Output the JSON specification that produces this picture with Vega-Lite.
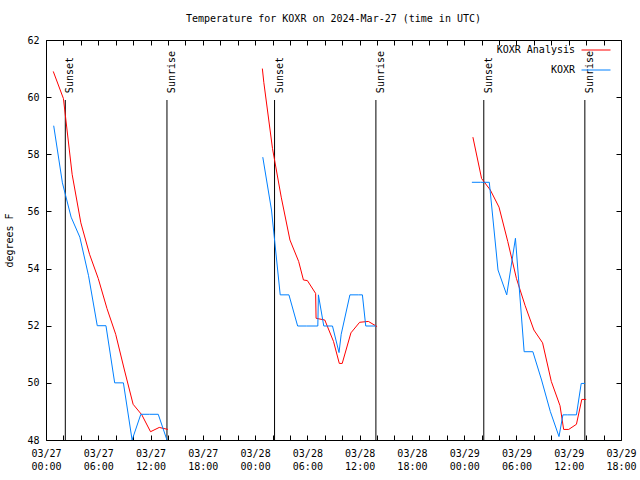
{
  "$schema": "https://vega.github.io/schema/vega-lite/v6.json",
  "width": 575,
  "height": 400,
  "autosize": "none",
  "padding": {"left": 46, "top": 40, "right": 19, "bottom": 40},
  "background": "white",
  "config": {
    "view": {"stroke": "black", "strokeWidth": 1},
    "font": "DejaVu Sans Mono",
    "axis": {
      "grid": false,
      "domainColor": "black",
      "tickColor": "black",
      "labelColor": "black",
      "titleColor": "black",
      "labelFont": "DejaVu Sans Mono",
      "labelFontSize": 10,
      "titleFont": "DejaVu Sans Mono",
      "titleFontSize": 10,
      "titleFontWeight": "normal"
    },
    "legend": {
      "labelFont": "DejaVu Sans Mono",
      "labelFontSize": 10,
      "labelColor": "black"
    }
  },
  "title": {
    "text": "Temperature for KOXR on 2024-Mar-27 (time in UTC)",
    "font": "DejaVu Sans Mono",
    "fontSize": 10,
    "fontWeight": "normal",
    "color": "black",
    "offset": 11
  },
  "datasets": {
    "sun": [
      {"label": "Sunset", "time": "2024-03-27T02:13:00Z"},
      {"label": "Sunrise", "time": "2024-03-27T13:53:00Z"},
      {"label": "Sunset", "time": "2024-03-28T02:14:00Z"},
      {"label": "Sunrise", "time": "2024-03-28T13:52:00Z"},
      {"label": "Sunset", "time": "2024-03-29T02:15:00Z"},
      {"label": "Sunrise", "time": "2024-03-29T13:51:00Z"}
    ],
    "temps": [
      {"series": "KOXR Analysis", "day": 1, "time": "2024-03-27T00:50:00Z", "temp": 60.9},
      {"series": "KOXR Analysis", "day": 1, "time": "2024-03-27T02:00:00Z", "temp": 59.95},
      {"series": "KOXR Analysis", "day": 1, "time": "2024-03-27T03:00:00Z", "temp": 57.3},
      {"series": "KOXR Analysis", "day": 1, "time": "2024-03-27T04:00:00Z", "temp": 55.6},
      {"series": "KOXR Analysis", "day": 1, "time": "2024-03-27T05:00:00Z", "temp": 54.5},
      {"series": "KOXR Analysis", "day": 1, "time": "2024-03-27T06:00:00Z", "temp": 53.65},
      {"series": "KOXR Analysis", "day": 1, "time": "2024-03-27T07:00:00Z", "temp": 52.6},
      {"series": "KOXR Analysis", "day": 1, "time": "2024-03-27T08:00:00Z", "temp": 51.7},
      {"series": "KOXR Analysis", "day": 1, "time": "2024-03-27T09:00:00Z", "temp": 50.45},
      {"series": "KOXR Analysis", "day": 1, "time": "2024-03-27T10:00:00Z", "temp": 49.25},
      {"series": "KOXR Analysis", "day": 1, "time": "2024-03-27T11:00:00Z", "temp": 48.88},
      {"series": "KOXR Analysis", "day": 1, "time": "2024-03-27T12:00:00Z", "temp": 48.29},
      {"series": "KOXR Analysis", "day": 1, "time": "2024-03-27T13:00:00Z", "temp": 48.44},
      {"series": "KOXR Analysis", "day": 1, "time": "2024-03-27T14:00:00Z", "temp": 48.37},
      {"series": "KOXR Analysis", "day": 2, "time": "2024-03-28T00:50:00Z", "temp": 61.0},
      {"series": "KOXR Analysis", "day": 2, "time": "2024-03-28T01:00:00Z", "temp": 60.52},
      {"series": "KOXR Analysis", "day": 2, "time": "2024-03-28T02:00:00Z", "temp": 58.2},
      {"series": "KOXR Analysis", "day": 2, "time": "2024-03-28T03:00:00Z", "temp": 56.5},
      {"series": "KOXR Analysis", "day": 2, "time": "2024-03-28T04:00:00Z", "temp": 55.0},
      {"series": "KOXR Analysis", "day": 2, "time": "2024-03-28T05:00:00Z", "temp": 54.25},
      {"series": "KOXR Analysis", "day": 2, "time": "2024-03-28T05:33:00Z", "temp": 53.6},
      {"series": "KOXR Analysis", "day": 2, "time": "2024-03-28T06:00:00Z", "temp": 53.58},
      {"series": "KOXR Analysis", "day": 2, "time": "2024-03-28T06:57:00Z", "temp": 53.13},
      {"series": "KOXR Analysis", "day": 2, "time": "2024-03-28T07:00:00Z", "temp": 52.26},
      {"series": "KOXR Analysis", "day": 2, "time": "2024-03-28T08:00:00Z", "temp": 52.2},
      {"series": "KOXR Analysis", "day": 2, "time": "2024-03-28T09:00:00Z", "temp": 51.45},
      {"series": "KOXR Analysis", "day": 2, "time": "2024-03-28T09:40:00Z", "temp": 50.68},
      {"series": "KOXR Analysis", "day": 2, "time": "2024-03-28T10:00:00Z", "temp": 50.68},
      {"series": "KOXR Analysis", "day": 2, "time": "2024-03-28T11:00:00Z", "temp": 51.75},
      {"series": "KOXR Analysis", "day": 2, "time": "2024-03-28T12:00:00Z", "temp": 52.12},
      {"series": "KOXR Analysis", "day": 2, "time": "2024-03-28T13:00:00Z", "temp": 52.15},
      {"series": "KOXR Analysis", "day": 2, "time": "2024-03-28T14:00:00Z", "temp": 51.97},
      {"series": "KOXR Analysis", "day": 3, "time": "2024-03-29T01:00:00Z", "temp": 58.6},
      {"series": "KOXR Analysis", "day": 3, "time": "2024-03-29T02:00:00Z", "temp": 57.15},
      {"series": "KOXR Analysis", "day": 3, "time": "2024-03-29T03:00:00Z", "temp": 56.75},
      {"series": "KOXR Analysis", "day": 3, "time": "2024-03-29T04:00:00Z", "temp": 56.15},
      {"series": "KOXR Analysis", "day": 3, "time": "2024-03-29T05:00:00Z", "temp": 54.95},
      {"series": "KOXR Analysis", "day": 3, "time": "2024-03-29T06:00:00Z", "temp": 53.65},
      {"series": "KOXR Analysis", "day": 3, "time": "2024-03-29T07:00:00Z", "temp": 52.7},
      {"series": "KOXR Analysis", "day": 3, "time": "2024-03-29T08:00:00Z", "temp": 51.85},
      {"series": "KOXR Analysis", "day": 3, "time": "2024-03-29T09:00:00Z", "temp": 51.4},
      {"series": "KOXR Analysis", "day": 3, "time": "2024-03-29T10:00:00Z", "temp": 50.05},
      {"series": "KOXR Analysis", "day": 3, "time": "2024-03-29T11:00:00Z", "temp": 49.2},
      {"series": "KOXR Analysis", "day": 3, "time": "2024-03-29T11:25:00Z", "temp": 48.37},
      {"series": "KOXR Analysis", "day": 3, "time": "2024-03-29T12:00:00Z", "temp": 48.37},
      {"series": "KOXR Analysis", "day": 3, "time": "2024-03-29T12:53:00Z", "temp": 48.55},
      {"series": "KOXR Analysis", "day": 3, "time": "2024-03-29T13:30:00Z", "temp": 49.42},
      {"series": "KOXR Analysis", "day": 3, "time": "2024-03-29T14:00:00Z", "temp": 49.42},
      {"series": "KOXR", "day": 1, "time": "2024-03-27T00:53:00Z", "temp": 59.0},
      {"series": "KOXR", "day": 1, "time": "2024-03-27T01:53:00Z", "temp": 57.0},
      {"series": "KOXR", "day": 1, "time": "2024-03-27T02:53:00Z", "temp": 55.8},
      {"series": "KOXR", "day": 1, "time": "2024-03-27T03:53:00Z", "temp": 55.1},
      {"series": "KOXR", "day": 1, "time": "2024-03-27T04:53:00Z", "temp": 53.75},
      {"series": "KOXR", "day": 1, "time": "2024-03-27T05:53:00Z", "temp": 52.0},
      {"series": "KOXR", "day": 1, "time": "2024-03-27T06:53:00Z", "temp": 52.0},
      {"series": "KOXR", "day": 1, "time": "2024-03-27T07:53:00Z", "temp": 50.0},
      {"series": "KOXR", "day": 1, "time": "2024-03-27T08:53:00Z", "temp": 50.0},
      {"series": "KOXR", "day": 1, "time": "2024-03-27T09:53:00Z", "temp": 48.0},
      {"series": "KOXR", "day": 1, "time": "2024-03-27T10:53:00Z", "temp": 48.9},
      {"series": "KOXR", "day": 1, "time": "2024-03-27T11:53:00Z", "temp": 48.9},
      {"series": "KOXR", "day": 1, "time": "2024-03-27T12:53:00Z", "temp": 48.9},
      {"series": "KOXR", "day": 1, "time": "2024-03-27T13:53:00Z", "temp": 48.0},
      {"series": "KOXR", "day": 2, "time": "2024-03-28T00:53:00Z", "temp": 57.9},
      {"series": "KOXR", "day": 2, "time": "2024-03-28T01:53:00Z", "temp": 56.05},
      {"series": "KOXR", "day": 2, "time": "2024-03-28T02:53:00Z", "temp": 53.08},
      {"series": "KOXR", "day": 2, "time": "2024-03-28T03:53:00Z", "temp": 53.08},
      {"series": "KOXR", "day": 2, "time": "2024-03-28T04:53:00Z", "temp": 51.99},
      {"series": "KOXR", "day": 2, "time": "2024-03-28T05:53:00Z", "temp": 51.99},
      {"series": "KOXR", "day": 2, "time": "2024-03-28T06:53:00Z", "temp": 51.99},
      {"series": "KOXR", "day": 2, "time": "2024-03-28T07:12:00Z", "temp": 51.99},
      {"series": "KOXR", "day": 2, "time": "2024-03-28T07:16:00Z", "temp": 53.08},
      {"series": "KOXR", "day": 2, "time": "2024-03-28T07:53:00Z", "temp": 51.99},
      {"series": "KOXR", "day": 2, "time": "2024-03-28T08:53:00Z", "temp": 51.99},
      {"series": "KOXR", "day": 2, "time": "2024-03-28T09:38:00Z", "temp": 51.06},
      {"series": "KOXR", "day": 2, "time": "2024-03-28T09:53:00Z", "temp": 51.7},
      {"series": "KOXR", "day": 2, "time": "2024-03-28T10:53:00Z", "temp": 53.08},
      {"series": "KOXR", "day": 2, "time": "2024-03-28T11:53:00Z", "temp": 53.08},
      {"series": "KOXR", "day": 2, "time": "2024-03-28T12:19:00Z", "temp": 53.08},
      {"series": "KOXR", "day": 2, "time": "2024-03-28T12:42:00Z", "temp": 51.99},
      {"series": "KOXR", "day": 2, "time": "2024-03-28T13:53:00Z", "temp": 51.99},
      {"series": "KOXR", "day": 3, "time": "2024-03-29T00:53:00Z", "temp": 57.02},
      {"series": "KOXR", "day": 3, "time": "2024-03-29T01:53:00Z", "temp": 57.02},
      {"series": "KOXR", "day": 3, "time": "2024-03-29T02:53:00Z", "temp": 57.02},
      {"series": "KOXR", "day": 3, "time": "2024-03-29T03:53:00Z", "temp": 53.95},
      {"series": "KOXR", "day": 3, "time": "2024-03-29T04:53:00Z", "temp": 53.08},
      {"series": "KOXR", "day": 3, "time": "2024-03-29T05:53:00Z", "temp": 55.06},
      {"series": "KOXR", "day": 3, "time": "2024-03-29T06:53:00Z", "temp": 51.09},
      {"series": "KOXR", "day": 3, "time": "2024-03-29T07:53:00Z", "temp": 51.09},
      {"series": "KOXR", "day": 3, "time": "2024-03-29T08:53:00Z", "temp": 50.1},
      {"series": "KOXR", "day": 3, "time": "2024-03-29T09:53:00Z", "temp": 49.0},
      {"series": "KOXR", "day": 3, "time": "2024-03-29T10:53:00Z", "temp": 48.12},
      {"series": "KOXR", "day": 3, "time": "2024-03-29T11:20:00Z", "temp": 48.88},
      {"series": "KOXR", "day": 3, "time": "2024-03-29T11:53:00Z", "temp": 48.88},
      {"series": "KOXR", "day": 3, "time": "2024-03-29T12:53:00Z", "temp": 48.88},
      {"series": "KOXR", "day": 3, "time": "2024-03-29T13:26:00Z", "temp": 49.98},
      {"series": "KOXR", "day": 3, "time": "2024-03-29T13:53:00Z", "temp": 49.98}
    ]
  },
  "layer": [
    {
      "data": {"name": "sun"},
      "mark": {"type": "rule", "color": "black", "strokeWidth": 1},
      "encoding": {
        "x": {
          "field": "time",
          "type": "temporal",
          "axis": {
            "orient": "top",
            "title": null,
            "labels": false,
            "domain": false,
            "tickSize": -5,
            "values": [1711497600000, 1711504800000, 1711512000000, 1711519200000, 1711526400000, 1711533600000, 1711540800000, 1711548000000, 1711555200000, 1711562400000, 1711569600000, 1711576800000, 1711584000000, 1711591200000, 1711598400000, 1711605600000, 1711612800000, 1711620000000, 1711627200000, 1711634400000, 1711641600000, 1711648800000, 1711656000000, 1711663200000, 1711670400000, 1711677600000, 1711684800000, 1711692000000, 1711699200000, 1711706400000, 1711713600000, 1711720800000, 1711728000000, 1711735200000]
          }
        },
        "y": {
          "datum": 48,
          "type": "quantitative",
          "scale": {"domain": [48, 62], "zero": false},
          "axis": {
            "orient": "right",
            "title": null,
            "labels": false,
            "domain": false,
            "tickSize": -5,
            "values": [48, 50, 52, 54, 56, 58, 60, 62]
          }
        },
        "y2": {"datum": 59.9}
      }
    },
    {
      "data": {"name": "sun"},
      "mark": {
        "type": "text",
        "angle": 270,
        "align": "left",
        "baseline": "top",
        "dx": 4,
        "font": "DejaVu Sans Mono",
        "fontSize": 10,
        "color": "black"
      },
      "encoding": {
        "x": {"field": "time", "type": "temporal", "axis": null},
        "y": {"datum": 60, "type": "quantitative", "scale": {"domain": [48, 62], "zero": false}, "axis": null},
        "text": {"field": "label"}
      }
    },
    {
      "data": {"name": "temps"},
      "mark": {"type": "line", "strokeWidth": 1, "clip": true},
      "encoding": {
        "x": {
          "field": "time",
          "type": "temporal",
          "scale": {
            "type": "utc",
            "domain": ["2024-03-27T00:00:00Z", "2024-03-29T18:00:00Z"]
          },
          "axis": {
            "orient": "bottom",
            "title": null,
            "domain": false,
            "tickSize": -5,
            "labelPadding": 13,
            "labelLineHeight": 13,
            "values": [1711497600000, 1711504800000, 1711512000000, 1711519200000, 1711526400000, 1711533600000, 1711540800000, 1711548000000, 1711555200000, 1711562400000, 1711569600000, 1711576800000, 1711584000000, 1711591200000, 1711598400000, 1711605600000, 1711612800000, 1711620000000, 1711627200000, 1711634400000, 1711641600000, 1711648800000, 1711656000000, 1711663200000, 1711670400000, 1711677600000, 1711684800000, 1711692000000, 1711699200000, 1711706400000, 1711713600000, 1711720800000, 1711728000000, 1711735200000],
            "labelExpr": "utchours(datum.value) % 6 == 0 ? [utcFormat(datum.value, '%m/%d'), utcFormat(datum.value, '%H:%M')] : ''",
            "labelFlush": false,
            "labelOverlap": false
          }
        },
        "y": {
          "field": "temp",
          "type": "quantitative",
          "scale": {"domain": [48, 62], "zero": false},
          "axis": {
            "orient": "left",
            "title": "degrees F",
            "domain": false,
            "tickSize": -5,
            "labelPadding": 12,
            "values": [48, 50, 52, 54, 56, 58, 60, 62],
            "titlePadding": 12
          }
        },
        "color": {
          "field": "series",
          "type": "nominal",
          "scale": {"domain": ["KOXR Analysis", "KOXR"], "range": ["#ff0000", "#0080ff"]},
          "legend": {
            "title": null,
            "orient": "none",
            "legendX": 535,
            "legendY": -5,
            "padding": 0,
            "symbolType": "stroke",
            "symbolSize": 841,
            "symbolStrokeWidth": 1,
            "labelAlign": "right",
            "labelOffset": -36,
            "rowPadding": -8
          }
        },
        "detail": {"field": "day", "type": "nominal"}
      }
    }
  ],
  "resolve": {"axis": {"x": "independent", "y": "independent"}}
}
